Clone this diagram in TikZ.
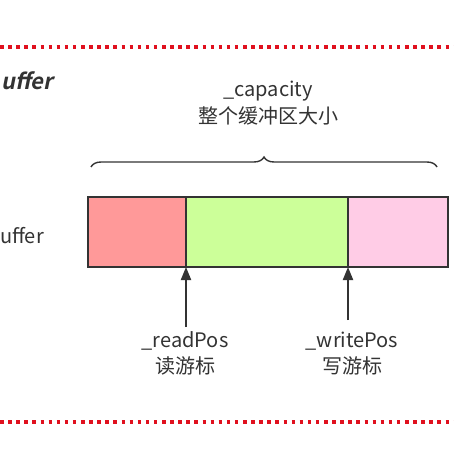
\documentclass[tikz,border=0pt]{standalone}
\usepackage{fontspec}
\setmainfont{Noto Sans CJK SC}
\newfontfamily\titlefont[FakeSlant=0.2]{Noto Sans CJK SC Bold}
\usetikzlibrary{decorations.pathreplacing,arrows.meta}
\definecolor{txt}{HTML}{333333}
\definecolor{dotred}{HTML}{E0101E}
\definecolor{cred}{HTML}{FF9999}
\definecolor{cgreen}{HTML}{CCFF99}
\definecolor{cpink}{HTML}{FFCCE6}
\tikzset{
  dotline/.style={dotred, line width=3.5pt, dash pattern=on 3.5pt off 4.6pt},
  cell/.style={draw=txt, line width=1.5pt, minimum height=70pt, inner sep=0pt, outer sep=0pt, anchor=north west},
  lbl/.style={text=txt, font=\fontsize{20}{24}\selectfont, inner sep=0pt, align=center},
  ptr/.style={draw=txt, line width=2pt, -{Triangle[length=13pt,width=10pt]}}
}
\begin{document}
\begin{tikzpicture}[x=1pt,y=1pt]
\useasboundingbox (0,0) rectangle (454,-454);
\fill[white] (0,0) rectangle (454,-454);
\coordinate (t1) at (0,-47);
\coordinate (t2) at (454,-47);
\coordinate (b1) at (0,-422);
\coordinate (b2) at (454,-422);
\draw[dotline] (t1) -- (t2);
\draw[dotline] (b1) -- (b2);
\node[lbl, anchor=west, font=\fontsize{22}{26}\selectfont\titlefont] (title) at (1,-81) {uffer};
\node[lbl, anchor=west] (bufl) at (0,-236) {uffer};
\node[cell, fill=cred, minimum width=98pt] (r) at (88,-197) {};
\node[cell, fill=cgreen, minimum width=162pt] (g) at (186,-197) {};
\node[cell, fill=cpink, minimum width=100pt] (p) at (348,-197) {};
\coordinate (bl) at (91,-167);
\coordinate (br) at (437,-167);
\draw[txt, line width=1.4pt, decorate, decoration={brace, amplitude=10pt}] (bl) -- (br);
\node[lbl] (cap) at (268,-91) {\_capacity};
\node[lbl] (capz) at (268,-116) {整个缓冲区大小};
\coordinate (rs) at (186,-327);
\coordinate (ws) at (348,-320);
\draw[ptr] (rs) -- (g.south west);
\draw[ptr] (ws) -- (g.south east);
\node[lbl] (rp) at (185,-341) {\_readPos};
\node[lbl] (rpz) at (185,-366) {读游标};
\node[lbl] (wp) at (352,-341) {\_writePos};
\node[lbl] (wpz) at (352,-366) {写游标};
\end{tikzpicture}
\end{document}
